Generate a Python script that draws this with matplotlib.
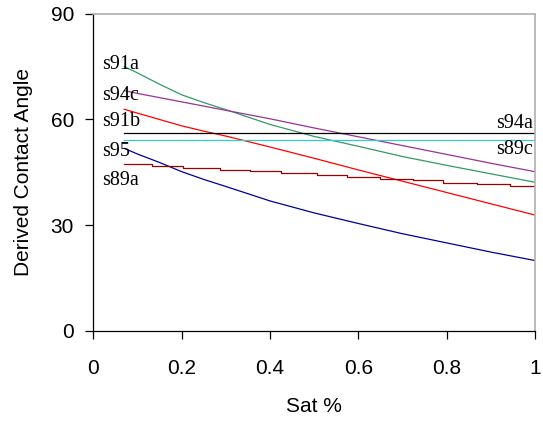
#!/usr/bin/env python3
"""
Derived contact angle vs saturation - recreated chart
"""

import matplotlib
matplotlib.use("Agg")
import matplotlib.pyplot as plt

# Saturation grid for the sloping series
sat = [0.07, 0.1, 0.15, 0.2, 0.25, 0.3, 0.4, 0.5, 0.6, 0.7, 0.8, 0.9, 1.0]

s91a = [75.0, 73.2, 70.0, 67.0, 64.8, 62.8, 58.6, 55.2, 52.4, 49.5, 47.0, 44.6, 42.2]
s94c = [68.2, 67.4, 66.2, 65.0, 63.8, 62.6, 60.2, 57.6, 55.1, 52.6, 50.1, 47.6, 45.2]
s91b = [62.9, 61.8, 60.0, 58.2, 56.7, 55.3, 52.2, 49.0, 45.7, 42.5, 39.3, 36.1, 32.9]
s95 = [51.8, 50.2, 47.8, 45.2, 43.0, 41.0, 36.9, 33.5, 30.5, 27.6, 25.0, 22.4, 20.0]

# s89a moves in small steps
sat_s89a = [0.07, 0.132, 0.204, 0.287, 0.355, 0.426, 0.506, 0.574, 0.649,
            0.725, 0.792, 0.868, 0.943, 1.0]
s89a = [47.4, 46.8, 46.2, 45.7, 45.3, 44.8, 44.2, 43.6, 43.2,
        42.7, 42.1, 41.7, 41.2, 41.2]

# flat series
sat_flat = [0.07, 1.0]
s94a = [56.1, 56.1]
s89c = [54.1, 54.1]

fig = plt.figure(figsize=(5.43, 4.23), dpi=100)
ax = fig.add_axes([0.172, 0.2175, 0.813, 0.75])

lw = 0.9
ax.plot(sat, s91a, color='#339966', linewidth=lw)
ax.plot(sat, s94c, color='#993399', linewidth=lw)
ax.plot(sat, s91b, color='#ff0000', linewidth=lw)
ax.plot(sat, s95, color='#000099', linewidth=lw)
ax.plot(sat_s89a, s89a, color='#990000', linewidth=lw, drawstyle='steps-post')
ax.plot(sat_flat, s94a, color='#000000', linewidth=lw)
ax.plot(sat_flat, s89c, color='#33cccc', linewidth=lw)

# series labels
lab = dict(family='Liberation Serif', fontsize=14.5, va='center')
ax.text(0.02, 75.5, 's91a', ha='left', **lab)
ax.text(0.02, 66.8, 's94c', ha='left', **lab)
ax.text(0.02, 59.3, 's91b', ha='left', **lab)
ax.text(0.02, 50.8, 's95', ha='left', **lab)
ax.text(0.02, 42.6, 's89a', ha='left', **lab)
ax.text(0.995, 58.8, 's94a', ha='right', **lab)
ax.text(0.995, 51.4, 's89c', ha='right', **lab)

ax.set_xlim(0, 1)
ax.set_ylim(0, 90)
ax.set_xticks([0, 0.2, 0.4, 0.6, 0.8, 1])
ax.set_xticklabels(['0', '0.2', '0.4', '0.6', '0.8', '1'])
ax.set_yticks([0, 30, 60, 90])

for side in ['top', 'right']:
    ax.spines[side].set_color('#b0b0b0')
    ax.spines[side].set_linewidth(1.2)
for side in ['left', 'bottom']:
    ax.spines[side].set_color('black')
    ax.spines[side].set_linewidth(0.9)

ax.tick_params(direction='out', length=6, width=0.9, labelsize=15,
               colors='black', pad=8)
ax.tick_params(axis='x', pad=14)
for t in ax.get_xticklabels() + ax.get_yticklabels():
    t.set_family('Liberation Sans')

ax.set_xlabel('Sat %', family='Liberation Sans', fontsize=15, labelpad=14)
ax.set_ylabel('Derived Contact Angle', family='Liberation Sans', fontsize=15,
              labelpad=13)

plt.savefig('out.png', dpi=100)
plt.close()
